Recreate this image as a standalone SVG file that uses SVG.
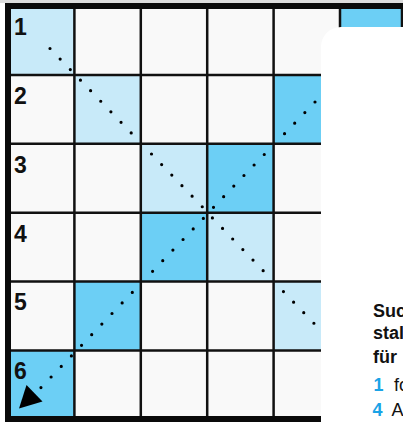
<svg xmlns="http://www.w3.org/2000/svg" width="403" height="422" viewBox="0 0 403 422">
  <defs>
    <style>
      .bg { fill: #f9f9f9; }
      .light { fill: #c8eaf9; }
      .mid { fill: #6ccff5; }
      .grid { stroke: #111; stroke-width: 2.5; fill: none; }
      .border { stroke: #0a0a0a; stroke-width: 6; fill: none; }
      .num { font-family: "Liberation Sans", Arial, sans-serif; font-weight: bold; font-size: 23px; fill: #111; }
      .dots { stroke: #000; stroke-width: 3.2; stroke-linecap: round; fill: none; }
      .txt { font-family: "Liberation Sans", Arial, sans-serif; font-size: 18px; fill: #111; }
      .b { font-weight: bold; }
      .blue { fill: #1aa3e6; font-weight: bold; }
    </style>
  </defs>
  <rect x="0" y="0" width="403" height="422" fill="#ffffff"/>
  <rect x="0" y="0" width="403" height="3" fill="#dcdcdc"/>
  <rect class="bg" x="8" y="6" width="400" height="414"/>

  <g id="cells">
    <rect class="light" x="8" y="6" width="66.4" height="68.9"/>
    <rect class="light" x="74.4" y="74.9" width="66.4" height="68.9"/>
    <rect class="light" x="140.8" y="143.8" width="66.4" height="68.9"/>
    <rect class="light" x="207.2" y="212.7" width="66.4" height="68.9"/>
    <rect class="light" x="273.6" y="281.6" width="66.4" height="68.9"/>
    <rect class="light" x="340" y="350.5" width="66.4" height="68.9"/>
    <rect class="mid" x="340" y="6" width="66.4" height="68.9"/>
    <rect class="mid" x="273.6" y="74.9" width="66.4" height="68.9"/>
    <rect class="mid" x="207.2" y="143.8" width="66.4" height="68.9"/>
    <rect class="mid" x="140.8" y="212.7" width="66.4" height="68.9"/>
    <rect class="mid" x="74.4" y="281.6" width="66.4" height="68.9"/>
    <rect class="mid" x="8" y="350.5" width="66.4" height="68.9"/>
  </g>

  <g id="grid">
    <path class="grid" d="M74.4 6V420 M140.8 6V420 M207.2 6V420 M273.6 6V420 M340 6V420 M402 6V420
      M8 74.9H403 M8 143.8H403 M8 212.7H403 M8 281.6H403 M8 350.5H403"/>
    <path class="border" d="M8 3V422 M5 6H403 M5 419H403"/>
  </g>

  <g id="row1"><text class="num" x="14" y="35">1</text></g>
  <g id="row2"><text class="num" x="14" y="103.5">2</text></g>
  <g id="row3"><text class="num" x="14" y="172.5">3</text></g>
  <g id="row4"><text class="num" x="14" y="241.5">4</text></g>
  <g id="row5"><text class="num" x="14" y="310">5</text></g>
  <g id="row6"><text class="num" x="14" y="378.5">6</text></g>

  <g id="connectors">
    <path id="diag-main" class="dots" d="M50 48.5h0 M60.15 59.05h0 M70.3 69.6h0 M80.45 80.15h0 M90.6 90.7h0 M100.75 101.25h0 M110.9 111.8h0 M121.05 122.35h0 M131.2 132.9h0
      M151.5 154h0 M161.65 164.55h0 M171.8 175.1h0 M181.95 185.65h0 M192.1 196.2h0 M202.25 206.75h0
      M212.4 217.9h0 M222.55 228.45h0 M232.7 239h0 M242.85 249.55h0 M253 260.1h0 M263.15 270.65h0
      M283.45 291.6h0 M293.6 302.15h0 M303.75 312.7h0 M313.9 323.25h0"/>
    <path id="diag-anti" class="dots" d="M315 102h0 M304.85 112.6h0 M294.7 123.2h0 M284.55 133.7h0
      M264.25 154.5h0 M254.1 165h0 M243.95 175.5h0 M233.8 186.1h0 M223.65 196.7h0 M213.5 207.3h0
      M203.35 218.4h0 M193.2 228.9h0 M183.05 239.5h0 M172.9 250.1h0 M162.75 260.7h0 M152.6 271.3h0
      M132.3 292.4h0 M122.15 302.9h0 M112 313.5h0 M101.85 324.1h0 M91.7 334.7h0 M81.55 345.3h0
      M71.4 355.9h0 M61.25 366.4h0 M51.1 377h0 M40.95 387.6h0"/>
    <polygon id="arrowhead" points="19,408.5 26.5,385 42.5,401.5" fill="#000"/>
  </g>

  <g id="panel">
    <rect x="321" y="27" width="130" height="420" rx="20" ry="20" fill="#ffffff"/>
    <text class="txt b" x="373" y="316.5">Suc</text>
    <text class="txt b" x="373" y="339">stal</text>
    <text class="txt b" x="373" y="362.5">für</text>
    <text class="txt blue" x="373.5" y="390.5">1</text>
    <text class="txt" x="394" y="390.5">fo</text>
    <text class="txt blue" x="372.5" y="415.5">4</text>
    <text class="txt" x="391.5" y="415.5">A</text>
  </g>
</svg>
